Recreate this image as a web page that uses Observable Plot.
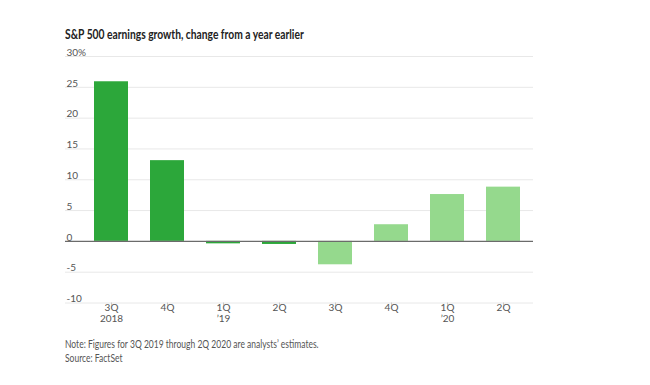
<!DOCTYPE html>
<html>
<head>
<meta charset="utf-8">
<script src="https://cdn.jsdelivr.net/npm/d3@7"></script>
<script src="https://cdn.jsdelivr.net/npm/@observablehq/plot@0.6"></script>
<style>
  html, body { margin: 0; padding: 0; background: #fff; }
  #wrap { position: relative; width: 650px; height: 385px; font-family: Lato, "Open Sans", sans-serif; }
  #title { position: absolute; left: 65px; top: 26px; font-size: 13px; font-weight: 700; color: #222; white-space: nowrap; transform: scaleX(0.79); transform-origin: left top; }
  #note { position: absolute; left: 65px; top: 337px; font-size: 10.5px; color: #555; line-height: 14px; white-space: nowrap; transform: scaleX(0.81); transform-origin: left top; }
  #chart { position: absolute; left: 0; top: 0; }
</style>
</head>
<body>
<div id="wrap">
  <div id="chart"></div>
  <div id="title">S&amp;P 500 earnings growth, change from a year earlier</div>
  <div id="note">Note: Figures for 3Q 2019 through 2Q 2020 are analysts’ estimates.<br>Source: FactSet</div>
</div>
<script>
const quarters = ["3Q 2018", "4Q 2018", "1Q 2019", "2Q 2019", "3Q 2019", "4Q 2019", "1Q 2020", "2Q 2020"];
const tickLine1 = ["3Q", "4Q", "1Q", "2Q", "3Q", "4Q", "1Q", "2Q"];
const tickLine2 = ["2018", "", "’19", "", "", "", "’20", ""];
const growth = [25.9, 13.1, -0.4, -0.5, -3.8, 2.7, 7.6, 8.8];
const isEstimate = [false, false, false, false, true, true, true, true];
const yTicks = [-10, -5, 0, 5, 10, 15, 20, 25, 30];
const yTickLabels = ["-10", "-5", "0", "5", "10", "15", "20", "25", "30%"];

const data = quarters.map((q, i) => ({q, value: growth[i], est: isEstimate[i]}));
const yt = yTicks.map((v, i) => ({v, label: yTickLabels[i]}));
const xl = quarters.map((q, i) => ({q, l1: tickLine1[i], l2: tickLine2[i]}));

const chart = Plot.plot({
  width: 650,
  height: 385,
  marginLeft: 65,
  marginRight: 117,
  marginTop: 56,
  marginBottom: 82.5,
  style: {fontFamily: "Lato, 'Open Sans', sans-serif", fontSize: "10px", color: "#555", background: "#fff"},
  x: {domain: quarters, range: [81.5, 533], paddingInner: 0.4, paddingOuter: 0.2, label: null},
  y: {domain: [-10, 30], label: null, axis: null},
  marks: [
    Plot.ruleY(yt.filter(d => d.v !== 0), {y: "v", stroke: "#e8e8e8", strokeWidth: 1}),
    Plot.barY(data, {x: "q", y: "value", fill: d => d.est ? "#95d98d" : "#2ca73a"}),
    Plot.ruleY([0], {stroke: "#6b6b6b", strokeWidth: 1.2}),
    Plot.text(yt, {y: "v", text: "label", frameAnchor: "left", textAnchor: "start", dx: 1, dy: -4, fill: "#555", fontSize: 10}),
    Plot.axisX({tickFormat: () => "", tickSize: 3, stroke: "#ccc", label: null}),
    Plot.text(xl, {x: "q", text: "l1", frameAnchor: "bottom", dy: 8, fill: "#555", fontSize: 10}),
    Plot.text(xl, {x: "q", text: "l2", frameAnchor: "bottom", dy: 19, fill: "#555", fontSize: 10})
  ]
});
document.getElementById("chart").appendChild(chart);
</script>
</body>
</html>
